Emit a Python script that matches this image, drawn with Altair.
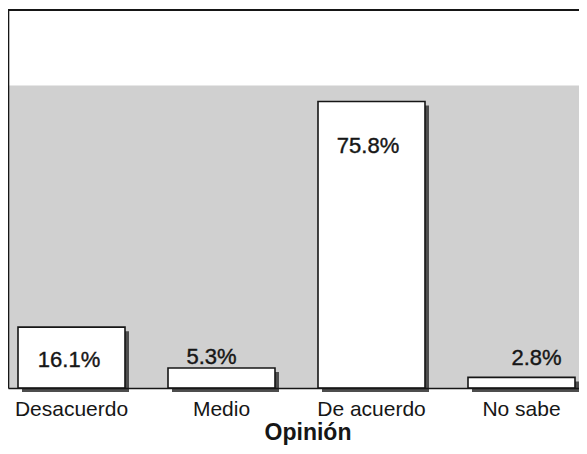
import altair as alt
import pandas as pd

# ---- data ----
categories = ["Desacuerdo", "Medio", "De acuerdo", "No sabe"]
values = [16.1, 5.3, 75.8, 2.8]
value_labels = ["16.1%", "5.3%", "75.8%", "2.8%"]
shaded_top = [80]

df = pd.DataFrame({"Opinión": categories, "pct": values, "label": value_labels})
bg_df = pd.DataFrame({"top": shaded_top})

# ---- style ----
W, H = 571, 378
FONT = "Liberation Sans"
INK = "#161616"
label_offsets = {
    "Desacuerdo": (-2.5, 33),
    "Medio": (-10, -11),
    "De acuerdo": (-3.5, 45),
    "No sabe": (15, -19),
}

yscale = alt.Scale(domain=[0, 100], nice=False, zero=True)
yaxis = alt.Axis(title=None, labels=False, ticks=False, grid=False,
                 domainColor=INK, domainWidth=1.6, zindex=1)
xenc = alt.X(
    "Opinión:N", sort=categories,
    scale=alt.Scale(paddingInner=0.2867, paddingOuter=0.0467, align=0.714),
    axis=alt.Axis(title="Opinión", labelAngle=0, ticks=False, grid=False,
                  domainColor=INK, domainWidth=1.3, zindex=1,
                  labelFont=FONT, labelFontSize=21, labelColor=INK, labelPadding=10,
                  titleFont=FONT, titleFontSize=23, titleFontWeight="bold",
                  titleColor=INK, titlePadding=2, titleX=W / 2 + 14),
)

shade = alt.Chart(bg_df).mark_rect(color="#d0d0d0").encode(
    x=alt.value(0), x2=alt.value(W),
    y=alt.Y("top:Q", scale=yscale, axis=yaxis), y2=alt.datum(0),
)

top_line = alt.Chart(bg_df).mark_rule(color=INK, strokeWidth=2).encode(
    x=alt.value(0), x2=alt.value(W), y=alt.value(0)
)

shadow = alt.Chart(df).mark_bar(
    color="#4d4d4d", xOffset=4, x2Offset=4, yOffset=4, y2Offset=4
).encode(x=xenc, y=alt.Y("pct:Q", scale=yscale, axis=yaxis))

bars = alt.Chart(df).mark_bar(fill="white", stroke=INK, strokeWidth=1.6).encode(
    x=xenc, y=alt.Y("pct:Q", scale=yscale, axis=yaxis)
)

texts = []
for cat in categories:
    dx, dy = label_offsets[cat]
    texts.append(
        alt.Chart(df).transform_filter(alt.datum["Opinión"] == cat)
        .mark_text(font=FONT, fontSize=22, color=INK, stroke=INK, strokeWidth=0.4,
                   baseline="middle", align="center", dx=dx, dy=dy)
        .encode(x=xenc, y=alt.Y("pct:Q", scale=yscale, axis=yaxis), text="label:N")
    )

chart = alt.layer(shade, top_line, shadow, bars, *texts).properties(
    width=W, height=H,
    autosize=alt.AutoSizeParams(type="none"),
    padding={"left": 0, "top": 2, "right": 0, "bottom": 58},
    background="white",
).configure_view(stroke=None)

chart.save("out.html", embed_options={"renderer": "svg", "actions": False})
